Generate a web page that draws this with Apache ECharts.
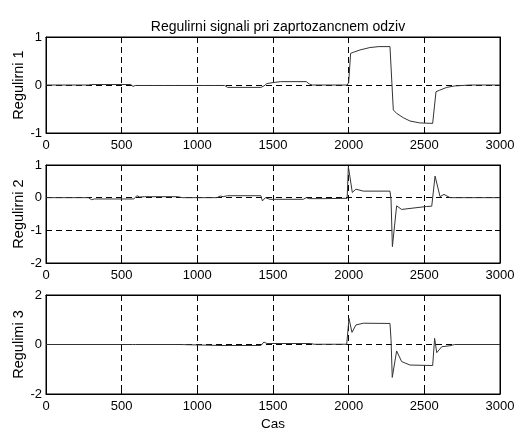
<!DOCTYPE html>
<html>
<head>
<meta charset="utf-8">
<script src="https://cdn.jsdelivr.net/npm/echarts@6/dist/echarts.min.js"></script>
<style>
  html, body { margin: 0; padding: 0; background: #fff; }
  #main { width: 515px; height: 429px; }
</style>
</head>
<body>
<div id="main"></div>
<script>
  // time samples and values
  var time1 = [0, 280, 290, 300, 560, 575, 590, 1180, 1200, 1420, 1440, 1460, 1500, 1550, 1720, 1740, 1760, 1990,
    2000, 2013, 2030, 2075, 2140, 2200, 2273, 2295, 2317, 2360, 2405, 2470, 2555, 2577, 2600, 2648, 2700, 2800, 3000]
  var reg1 = [0, 0, 0.03, 0.01, 0.01, -0.03, -0.01, -0.01, -0.05, -0.05, -0.02, 0.03, 0.05, 0.07, 0.07, 0.02, 0, 0,
    0.05, 0.66, 0.68, 0.73, 0.78, 0.8, 0.8, -0.52, -0.59, -0.68, -0.75, -0.79, -0.8, -0.14, -0.11, -0.05, -0.02, 0, 0]

  var time2 = [0, 280, 300, 320, 580, 600, 620, 650, 870, 880, 900, 1130, 1150, 1170, 1200, 1420, 1430, 1450, 1480,
    1700, 1720, 1740, 1830, 1990, 1998, 2024, 2048, 2097, 2273, 2280, 2289, 2317, 2350, 2515, 2549, 2555, 2571, 2604,
    2630, 2670, 3000]
  var reg2 = [0, 0, -0.06, -0.04, -0.04, 0.06, 0.02, 0.03, 0.03, -0.03, 0, 0, 0.05, 0.03, 0.06, 0.06, -0.1, 0, -0.05,
    -0.05, 0, -0.03, -0.03, -0.02, 0.95, 0.16, 0.26, 0.2, 0.2, -0.07, -1.5, -0.25, -0.36, -0.27, -0.26, -0.2, 0.66, 0.03,
    0.1, 0, 0]

  var time3 = [0, 570, 580, 590, 860, 870, 880, 1150, 1420, 1440, 1460, 1750, 1770, 1987, 2002, 2022, 2048, 2097, 2273,
    2280, 2288, 2317, 2350, 2405, 2555, 2562, 2568, 2582, 2615, 2670, 2700, 3000]
  var reg3 = [0, 0, 0.04, 0, 0, -0.04, 0, -0.04, -0.04, 0.1, 0.04, 0.04, 0.01, 0.01, 1.05, 0.49, 0.79, 0.86, 0.85,
    0.2, -1.33, -0.26, -0.69, -0.83, -0.85, -0.85, 0.25, -0.33, -0.09, -0.05, 0, 0]

  var xTicks = [0, 3000, 500]
  var yTicks = [[-1, 1, 1], [-2, 1, 1], [-2, 2, 2]]
  var yNames = ['Regulirni 1', 'Regulirni 2', 'Regulimi 3']

  var font = 'Liberation Sans, Arial, sans-serif'
  var dash = { color: '#000', type: [6, 4], width: 1 }
  var plain = function (v) { return String(v) }

  function pairs(t, v) {
    var out = []
    for (var i = 0; i < t.length; i++) out.push([t[i], v[i]])
    return out
  }

  var grids = [
    { left: 46, top: 37, width: 454, height: 96 },
    { left: 46, top: 165, width: 454, height: 98 },
    { left: 46, top: 295, width: 454, height: 99 }
  ]
  var xAxes = [], yAxes = [], series = []
  var lines = [pairs(time1, reg1), pairs(time2, reg2), pairs(time3, reg3)]

  for (var g = 0; g < 3; g++) {
    grids[g].show = true
    grids[g].borderColor = '#000'
    grids[g].borderWidth = 1
    grids[g].outerBoundsMode = 'none'
    grids[g].containLabel = false
    // bottom axis with labels and grid
    xAxes.push({
      gridIndex: g, type: 'value', min: xTicks[0], max: xTicks[1], interval: xTicks[2],
      name: g === 2 ? 'Cas' : '', nameLocation: 'middle', nameGap: 23, nameMoveOverlap: false,
      nameTextStyle: { fontFamily: font, fontSize: 13.5, color: '#000' },
      axisLine: { onZero: false, lineStyle: { color: '#000' } },
      axisTick: { inside: true, length: 5, lineStyle: { color: '#000' } },
      axisLabel: { fontFamily: font, fontSize: 13, color: '#000', margin: 6, formatter: plain },
      splitLine: { show: true, lineStyle: dash }
    })
    // top axis, ticks only
    xAxes.push({
      gridIndex: g, type: 'value', position: 'top', min: xTicks[0], max: xTicks[1], interval: xTicks[2],
      axisLine: { onZero: false, lineStyle: { color: '#000' } },
      axisTick: { inside: true, length: 5, lineStyle: { color: '#000' } },
      axisLabel: { show: false }, splitLine: { show: false }
    })
    yAxes.push({
      gridIndex: g, type: 'value', min: yTicks[g][0], max: yTicks[g][1], interval: yTicks[g][2],
      name: yNames[g], nameLocation: 'middle', nameGap: 20, nameMoveOverlap: false,
      nameTextStyle: { fontFamily: font, fontSize: 14.5, color: '#000' },
      axisLine: { onZero: false, lineStyle: { color: '#000' } },
      axisTick: { inside: true, length: 5, lineStyle: { color: '#000' } },
      axisLabel: { fontFamily: font, fontSize: 13, color: '#000', margin: 4, formatter: plain },
      splitLine: { show: true, lineStyle: dash }
    })
    yAxes.push({
      gridIndex: g, type: 'value', position: 'right', min: yTicks[g][0], max: yTicks[g][1], interval: yTicks[g][2],
      axisLine: { onZero: false, lineStyle: { color: '#000' } },
      axisTick: { inside: true, length: 5, lineStyle: { color: '#000' } },
      axisLabel: { show: false }, splitLine: { show: false }
    })
    series.push({
      type: 'line', xAxisIndex: g * 2, yAxisIndex: g * 2,
      data: lines[g], symbol: 'none', animation: false,
      lineStyle: { color: '#333', width: 1 }
    })
  }

  var chart = echarts.init(document.getElementById('main'))
  chart.setOption({
    animation: false,
    title: {
      text: 'Regulirni signali pri zaprtozancnem odziv',
      left: 273, top: 15, textAlign: 'center',
      textStyle: { fontFamily: font, fontSize: 14, fontWeight: 'normal', color: '#000' }
    },
    grid: grids,
    xAxis: xAxes,
    yAxis: yAxes,
    series: series
  })
</script>
</body>
</html>
